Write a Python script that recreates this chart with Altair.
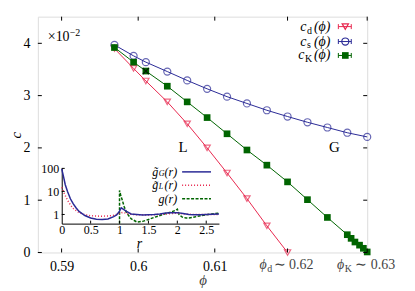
import altair as alt
import pandas as pd

SERIF = "Liberation Serif"
RED = "#e8284f"
BLUE = "#2a2a96"
GREEN = "#006400"
PHI = "\u03d5"

# ---------------- main panel data ----------------
phi = [0.5969, 0.5994, 0.6010, 0.6038, 0.6064, 0.6090, 0.6116, 0.6142, 0.6168, 0.6195,
       0.6221, 0.6247, 0.6273, 0.6278, 0.6283, 0.6289, 0.6294, 0.6299]
c_d = [3.90, 3.52, 3.28, 2.88, 2.46, 2.00, 1.52, 1.03, 0.51, 0.00]
phi_s = phi[:13] + [phi[17]]
c_s = [3.97, 3.76, 3.64, 3.46, 3.29, 3.13, 2.98, 2.85, 2.72, 2.60, 2.49, 2.39, 2.29, 2.21]
c_K = [3.92, 3.64, 3.47, 3.18, 2.88, 2.58, 2.27, 1.96, 1.67, 1.35, 1.01, 0.67, 0.34,
       0.27, 0.20, 0.14, 0.08, 0.01]
cross_phi = [0.6010]
cross_c = [3.47]

x_ticks = [0.59, 0.60, 0.61, 0.6195, 0.6299]
y_ticks = [0, 1, 2, 3, 4]

# ---------------- inset data ----------------
r_G = [0.0, 0.03, 0.06, 0.1, 0.15, 0.2, 0.25, 0.3, 0.4, 0.5, 0.6, 0.7, 0.8, 0.9, 0.95, 1.0,
       1.03, 1.07, 1.12, 1.2, 1.3, 1.4, 1.5, 1.6, 1.7, 1.8, 1.9, 2.0, 2.1, 2.2, 2.3, 2.4,
       2.5, 2.6, 2.72]
g_G = [95, 45, 20, 10, 4.8, 2.9, 1.9, 1.35, 0.9, 0.7, 0.62, 0.6, 0.64, 0.8, 0.95, 1.4,
       1.95, 1.65, 1.35, 1.05, 1.0, 0.95, 0.97, 1.0, 1.05, 1.15, 1.2, 1.2, 1.1, 1.0, 0.97,
       0.97, 1.0, 1.02, 1.05]
r_L = [0.0, 0.05, 0.1, 0.15, 0.2, 0.3, 0.4, 0.5, 0.6, 0.7, 0.8, 0.9, 1.0, 1.05, 1.1, 1.2,
       1.3, 1.5, 1.7, 1.9, 2.0, 2.1, 2.3, 2.5, 2.72]
g_L = [15, 7.5, 4.2, 2.6, 1.8, 1.2, 0.98, 0.88, 0.85, 0.84, 0.86, 0.92, 1.12, 1.22, 1.15,
       1.02, 0.97, 0.95, 1.0, 1.1, 1.15, 1.05, 1.0, 1.0, 1.0]
r_g = [1.0, 1.0, 1.02, 1.05, 1.08, 1.12, 1.2, 1.3, 1.4, 1.5, 1.6, 1.7, 1.8, 1.9, 1.97, 2.0,
       2.03, 2.08, 2.15, 2.2, 2.3, 2.4, 2.5, 2.6, 2.72]
g_g = [0.4, 11, 7, 4, 2.2, 1.2, 0.65, 0.47, 0.5, 0.6, 0.75, 0.9, 1.1, 1.3, 1.5, 1.7, 1.0,
       0.78, 0.7, 0.7, 0.78, 0.88, 0.97, 1.05, 1.15]
r_ticks = [0, 0.5, 1, 1.5, 2, 2.5]
g_ticks = [1, 10, 100]

W, H = 331, 237
DUMMY = pd.DataFrame({"a": [0]})

# ---------------- scales / axes ----------------
xs = alt.Scale(domain=[0.5869, 0.6299], nice=False, zero=False)
ys = alt.Scale(domain=[0, 4.51], nice=False, zero=False)
X_main = alt.X("phi:Q", scale=xs, axis=alt.Axis(
    orient="bottom", values=x_ticks, title=None, ticks=False, tickSize=0, domain=False,
    grid=False, labelPadding=7, labelFontSize=14, labelFont=SERIF, labelColor="black",
    labelFlush=False,
    labelExpr="datum.value < 0.615 ? format(datum.value, '.2~f') : ''"))
Y_main = alt.Y("c:Q", scale=ys, axis=alt.Axis(
    orient="left", values=y_ticks, title=None, ticks=False, tickSize=0, domain=False,
    grid=False, labelPadding=8, labelFontSize=14, labelFont=SERIF, labelColor="black",
    format="d"))

rs = alt.Scale(domain=[0, 2.72], range=[24, 182], nice=False, zero=False)
gs = alt.Scale(type="log", domain=[0.4, 105], range=[208, 152], nice=False)
X_in = alt.X("r:Q", scale=rs, axis=alt.Axis(
    orient="bottom", offset=-29, values=r_ticks, format="~g", title=None, ticks=False,
    tickSize=0, domain=True, domainColor="black", domainWidth=1, grid=False,
    labelPadding=1, labelFontSize=12, labelFont=SERIF, labelColor="black", labelFlush=False))
Y_in = alt.Y("g:Q", scale=gs, axis=alt.Axis(
    orient="left", offset=-24, values=g_ticks, format="~g", title=None, ticks=False,
    tickSize=0, domain=True, domainColor="black", domainWidth=1, grid=False,
    labelPadding=3, labelFontSize=12, labelFont=SERIF, labelColor="black",
    labelOverlap=False))


def T(text, x, y, size=14, italic=False, align="left", color="black", angle=0):
    kw = dict(text=text, fontSize=size, font=SERIF, align=align, baseline="middle",
              color=color)
    if italic:
        kw["fontStyle"] = "italic"
    if angle:
        kw["angle"] = angle
    return alt.Chart(DUMMY).mark_text(**kw).encode(x=alt.value(x), y=alt.value(y))


def R(x, x2, y, y2, color="black", width=1.0, dash=None):
    kw = dict(color=color, strokeWidth=width)
    if dash:
        kw["strokeDash"] = dash
    return alt.Chart(DUMMY).mark_rule(**kw).encode(
        x=alt.value(x), x2=alt.value(x2), y=alt.value(y), y2=alt.value(y2))


df_d = pd.DataFrame({"phi": phi[:10], "c": c_d})
df_s = pd.DataFrame({"phi": phi_s, "c": c_s})
df_K = pd.DataFrame({"phi": phi, "c": c_K})
df_x = pd.DataFrame({"phi": cross_phi, "c": cross_c})
df_xt = pd.DataFrame({"phi": x_ticks})
df_yt = pd.DataFrame({"c": y_ticks})

main_layers = [
    alt.Chart(df_d).mark_line(color=RED, strokeWidth=1).encode(x=X_main, y=Y_main),
    alt.Chart(df_d).mark_point(shape="triangle-down", filled=False, size=40,
                               strokeWidth=1.2, color=RED).encode(x=X_main, y=Y_main),
    alt.Chart(df_s).mark_line(color=BLUE, strokeWidth=1).encode(x=X_main, y=Y_main),
    alt.Chart(df_s).mark_point(shape="circle", filled=False, size=50,
                               strokeWidth=1.2, color=BLUE).encode(x=X_main, y=Y_main),
    alt.Chart(df_K).mark_line(color=GREEN, strokeWidth=1).encode(x=X_main, y=Y_main),
    alt.Chart(df_K).mark_point(shape="square", filled=True, size=45, opacity=1,
                               color=GREEN).encode(x=X_main, y=Y_main),
    alt.Chart(df_x).mark_point(shape="M-1,-1L1,1M-1,1L1,-1", filled=False, size=40,
                               strokeWidth=1.3, color="black").encode(x=X_main, y=Y_main),
    # inward ticks
    alt.Chart(df_xt).mark_rule(color="black").encode(x=X_main, y=alt.value(H), y2=alt.value(H - 4)),
    alt.Chart(df_xt).mark_rule(color="black").encode(x=X_main, y=alt.value(0), y2=alt.value(4)),
    alt.Chart(df_yt).mark_rule(color="black").encode(y=Y_main, x=alt.value(0), x2=alt.value(4)),
    alt.Chart(df_yt).mark_rule(color="black").encode(y=Y_main, x=alt.value(W), x2=alt.value(W - 4)),
]

# special x tick labels phi_d ~ 0.62 and phi_K ~ 0.63
lab_specs = [(0.6195, "d", "\u223c 0.62", -21, -14), (0.6299, "K", "\u223c 0.63", -23, -12)]
for pv, sub, rest, dphi, drest in lab_specs:
    d = pd.DataFrame({"phi": [pv]})
    main_layers += [
        alt.Chart(d).mark_text(text=PHI, dx=dphi, align="right", baseline="middle",
                               fontSize=14, font=SERIF, fontStyle="italic", color="#444")
        .encode(x=X_main, y=alt.value(250)),
        alt.Chart(d).mark_text(text=sub, dx=dphi + 0.5, align="left", baseline="middle",
                               fontSize=10, font=SERIF, color="#444")
        .encode(x=X_main, y=alt.value(254)),
        alt.Chart(d).mark_text(text=rest, dx=drest, align="left", baseline="middle",
                               fontSize=14, font=SERIF, color="#444")
        .encode(x=X_main, y=alt.value(250)),
    ]

# titles and annotations
main_layers += [
    T("c", -22, 119, size=15, italic=True, angle=270, align="center"),
    T(PHI, 166, 265, size=15, italic=True, align="center", color="#444"),
    T("\u00d710", 10, 20, size=14),
    T("\u22122", 32, 16, size=10),
    T("L", 146, 131, size=15, align="center"),
    T("G", 298, 131, size=15, align="center"),
]

# main legend
leg = [("d", RED, "triangle-down", False, 10, 270),
       ("s", BLUE, "circle", False, 25, 270),
       ("K", GREEN, "square", True, 39, 268)]
for sub, col, shape, filled, yy, cx in leg:
    main_layers += [
        T("c", cx, yy, size=14, italic=True, align="right"),
        T(sub, cx + 0.5, yy + 4, size=10, align="left"),
        T("(" + PHI + ")", 294, yy, size=14, italic=True, align="right"),
        R(302, 315, yy, yy, color=col),
        R(302, 302, yy - 2.5, yy + 2.5, color=col),
        R(315, 315, yy - 2.5, yy + 2.5, color=col),
        alt.Chart(DUMMY).mark_point(shape=shape, filled=filled, opacity=1,
                                    size=45 if filled else (40 if shape != "circle" else 50),
                                    strokeWidth=1.2, color=col)
        .encode(x=alt.value(309), y=alt.value(yy)),
    ]

main = alt.layer(*main_layers)

# ---------------- inset ----------------
df_G = pd.DataFrame({"r": r_G, "g": g_G, "i": range(len(r_G))})
df_L = pd.DataFrame({"r": r_L, "g": g_L, "i": range(len(r_L))})
df_g = pd.DataFrame({"r": r_g, "g": g_g, "i": range(len(r_g))})
df_rt = pd.DataFrame({"r": r_ticks[1:]})
df_gt = pd.DataFrame({"g": g_ticks})

inset_layers = [
    alt.Chart(df_g).mark_line(color=GREEN, strokeWidth=1.5, strokeDash=[3, 1.5])
    .encode(x=X_in, y=Y_in, order="i:Q"),
    alt.Chart(df_L).mark_line(color=RED, strokeWidth=1.5, strokeDash=[1, 2])
    .encode(x=X_in, y=Y_in, order="i:Q"),
    alt.Chart(df_G).mark_line(color=BLUE, strokeWidth=1.5)
    .encode(x=X_in, y=Y_in, order="i:Q"),
    alt.Chart(df_rt).mark_rule(color="black").encode(x=X_in, y=alt.value(208), y2=alt.value(205)),
    alt.Chart(df_gt).mark_rule(color="black").encode(y=Y_in, x=alt.value(24), x2=alt.value(27)),
    T("r", 102, 229, size=14, italic=True, align="center"),
    # inset legend
    T("g\u0303", 121, 156, size=12, italic=True, align="right"),
    T("G", 121.5, 158, size=8, italic=True, align="left"),
    T("(r)", 140, 156, size=12, italic=True, align="right"),
    T("g\u0303", 121, 169.5, size=12, italic=True, align="right"),
    T("L", 121.5, 171.5, size=8, italic=True, align="left"),
    T("(r)", 140, 169.5, size=12, italic=True, align="right"),
    T("g(r)", 140, 183, size=12, italic=True, align="right"),
    R(145, 174, 156, 156, color=BLUE, width=1.5),
    R(145, 174, 169.5, 169.5, color=RED, width=1.5, dash=[1, 2]),
    R(145, 174, 183, 183, color=GREEN, width=1.5, dash=[3, 1.5]),
]
inset = alt.layer(*inset_layers)

chart = alt.layer(main, inset).resolve_scale(x="independent", y="independent").properties(
    width=W, height=H, autosize="none",
    padding={"left": 30, "top": 8, "right": 40, "bottom": 35},
).configure_view(stroke="black", strokeWidth=1.2).configure(background="white")

chart.save("out.html", embed_options={"renderer": "svg", "actions": False})
